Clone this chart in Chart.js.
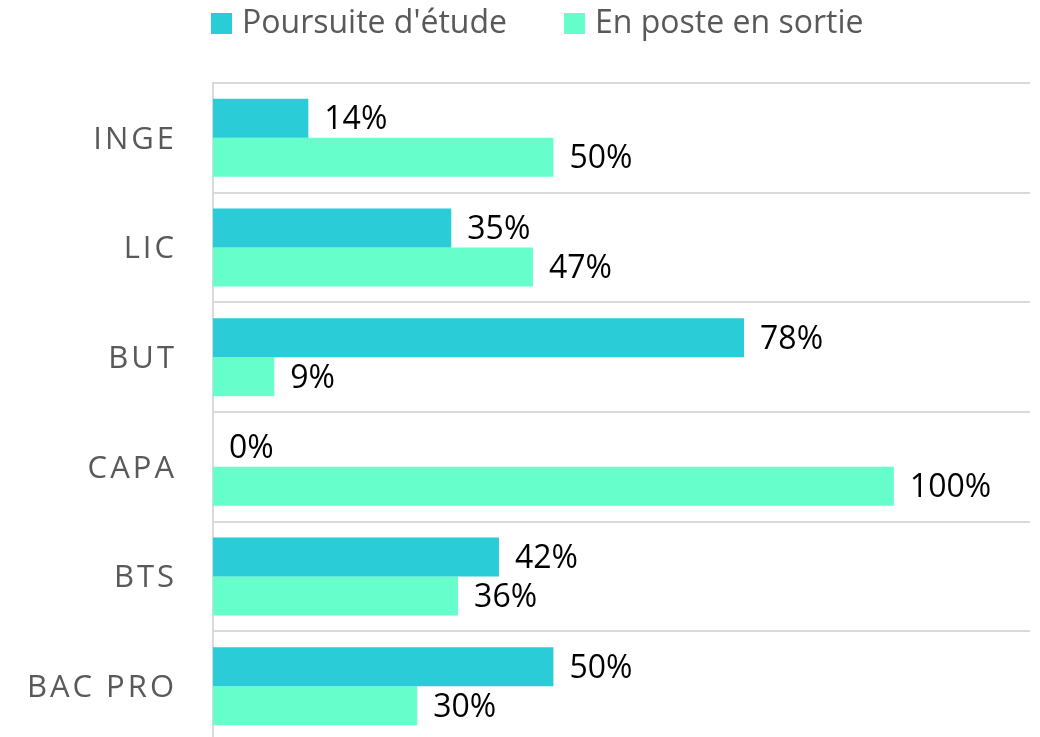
<!DOCTYPE html>
<html>
<head>
<meta charset="utf-8">
<script src="https://cdn.jsdelivr.net/npm/chart.js@4.4.1/dist/chart.umd.min.js"></script>
<style>
  html, body { margin: 0; padding: 0; background: #fff; overflow: hidden; }
</style>
</head>
<body>
<canvas id="chart" width="1040" height="741"></canvas>
<script>
// data
const categories = ['INGE', 'LIC', 'BUT', 'CAPA', 'BTS', 'BAC PRO'];
const poursuite = [14, 35, 78, 0, 42, 50];
const enPoste = [50, 47, 9, 100, 36, 30];
const seriesNames = ["Poursuite d'étude", 'En poste en sortie'];
const seriesColors = ['#29CCD7', '#66FFCC'];

const FONT = "'Open Sans', sans-serif";

// value labels at the end of each bar + custom legend + spaced category labels
const extrasPlugin = {
    id: 'extras',
    afterDatasetsDraw(chart) {
        const ctx = chart.ctx;
        ctx.save();
        ctx.font = '32px ' + FONT;
        ctx.fillStyle = '#000';
        ctx.textBaseline = 'middle';
        ctx.textAlign = 'left';
        chart.data.datasets.forEach((ds, i) => {
            chart.getDatasetMeta(i).data.forEach((bar, j) => {
                ctx.fillText(ds.data[j] + '%', bar.x + 16, bar.y + 2);
            });
        });
        ctx.restore();
    },
    afterDraw(chart) {
        const ctx = chart.ctx;
        const yScale = chart.scales.y;
        ctx.save();
        // category labels
        ctx.font = '31px ' + FONT;
        ctx.fillStyle = '#595959';
        ctx.textBaseline = 'middle';
        ctx.textAlign = 'right';
        ctx.letterSpacing = '3px';
        chart.data.labels.forEach((lab, i) => {
            ctx.fillText(lab, 177, yScale.getPixelForValue(i) + 2);
        });
        ctx.letterSpacing = '0px';
        // legend
        ctx.font = '32px ' + FONT;
        ctx.textAlign = 'left';
        ctx.textBaseline = 'alphabetic';
        const legendX = [211, 564];
        chart.data.datasets.forEach((ds, i) => {
            ctx.fillStyle = ds.backgroundColor;
            ctx.fillRect(legendX[i], 13, 21, 21);
            ctx.fillStyle = '#595959';
            ctx.fillText(ds.label, legendX[i] + 31, 33);
        });
        ctx.restore();
    }
};

new Chart(document.getElementById('chart'), {
    type: 'bar',
    data: {
        labels: categories,
        datasets: [
            { label: seriesNames[0], data: poursuite, backgroundColor: seriesColors[0] },
            { label: seriesNames[1], data: enPoste, backgroundColor: seriesColors[1] }
        ]
    },
    options: {
        indexAxis: 'y',
        responsive: false,
        animation: false,
        categoryPercentage: 0.712,
        barPercentage: 1,
        layout: { padding: { top: 83, right: 10, left: 0, bottom: 0 } },
        plugins: {
            legend: { display: false },
            tooltip: { enabled: false }
        },
        scales: {
            x: { display: false, min: 0, max: 120 },
            y: {
                grid: { color: '#d9d9d9', lineWidth: 2, offset: true, drawTicks: false },
                border: { color: '#d9d9d9', width: 2 },
                ticks: { display: false },
                afterFit(scale) { scale.width = 213; }
            }
        }
    },
    plugins: [extrasPlugin]
});
</script>
</body>
</html>
